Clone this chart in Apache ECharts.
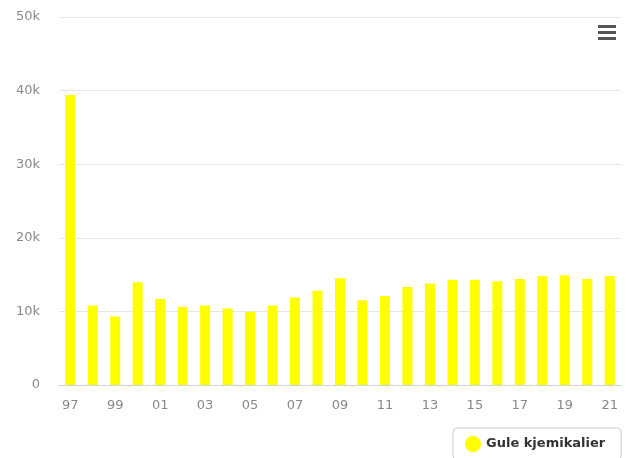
<!DOCTYPE html>
<html><head><meta charset="utf-8">
<script src="https://cdn.jsdelivr.net/npm/echarts@6/dist/echarts.min.js"></script>
<style>html,body{margin:0;padding:0;background:#fff}#c{width:626px;height:458px}</style>
</head><body><div id="c"></div>
<script>
const categories = ['97','98','99','00','01','02','03','04','05','06','07','08','09','10','11','12','13','14','15','16','17','18','19','20','21'];
const seriesName = 'Gule kjemikalier';
const values = [39400,10800,9300,13950,11700,10600,10800,10400,9950,10800,11900,12800,14500,11500,12100,13300,13800,14300,14300,14100,14400,14800,14900,14400,14800];
const yTicks = [0,10000,20000,30000,40000,50000];

const chart = echarts.init(document.getElementById('c'), null, {renderer:'canvas'});
chart.setOption({
  animation:false,
  backgroundColor:'#fff',
  grid:{left:59, right:5, top:17, bottom:73},
  xAxis:{
    type:'category', data:categories,
    axisLine:{lineStyle:{color:'#ccd6eb', width:1}},
    axisTick:{show:false},
    axisLabel:{color:'#888', fontSize:13, fontFamily:'DejaVu Sans', interval:1, margin:14},
    splitLine:{show:false}
  },
  yAxis:{
    type:'value', min:yTicks[0], max:yTicks[yTicks.length-1], interval:10000,
    axisLine:{show:false}, axisTick:{show:false},
    axisLabel:{color:'#888', fontSize:13, fontFamily:'DejaVu Sans', margin:19,
      formatter:v=> v===0 ? '0' : (v/1000)+'k'},
    splitLine:{lineStyle:{color:'#e6e6e6', width:1}}
  },
  legend:{
    left:453, top:428, padding:[8,16,8,12],
    borderColor:'#cccccc', borderWidth:1, borderRadius:4,
    icon:'circle', itemWidth:16, itemHeight:16, itemGap:6,
    textStyle:{color:'#333', fontSize:13, fontWeight:'bold', fontFamily:'DejaVu Sans'},
    data:[seriesName]
  },
  graphic:[
    {type:'rect', left:598, top:25, shape:{width:18, height:3}, style:{fill:'#555'}},
    {type:'rect', left:598, top:31, shape:{width:18, height:3}, style:{fill:'#555'}},
    {type:'rect', left:598, top:37, shape:{width:18, height:3}, style:{fill:'#555'}}
  ],
  series:[{
    name:seriesName, type:'bar', data:values, barWidth:10,
    itemStyle:{color:'#ffff00'}
  }]
});
</script></body></html>
